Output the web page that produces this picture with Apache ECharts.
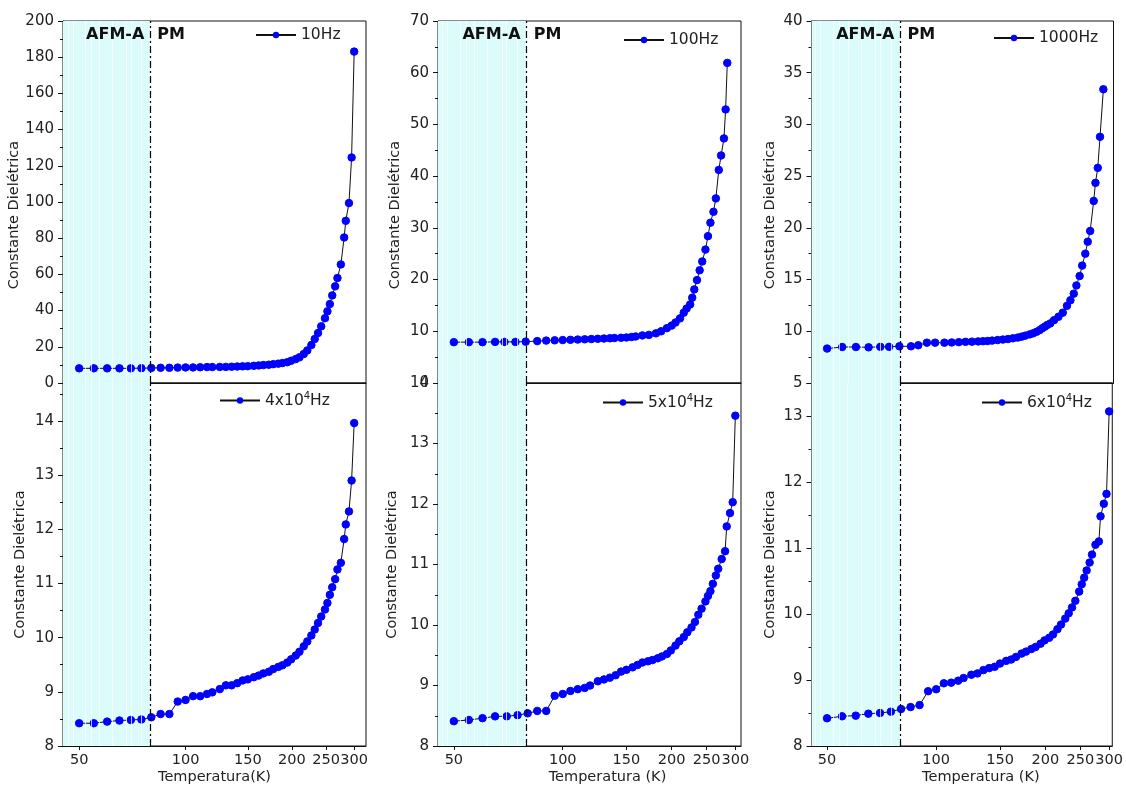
<!DOCTYPE html>
<html><head><meta charset="utf-8">
<script src="https://cdn.jsdelivr.net/npm/echarts@6/dist/echarts.min.js"></script>
<style>html,body{margin:0;padding:0;background:#fff}#c{width:1126px;height:789px}</style>
</head><body><div id="c"></div>
<script>
// ---------- DATA ----------
const seriesNames = ['10Hz', '100Hz', '1000Hz', '4x10^4Hz', '5x10^4Hz', '6x10^4Hz'];
const xTickLabels = [50, 100, 150, 200, 250, 300];
const transitionT = 79.5;          // AFM-A / PM boundary (K)
const bandStripesT = [46.5, 48, 52, 54, 57, 62, 68, 70, 75];

const T_common = [50,55,60,65,70,75,80,85,90,95,100,105,110,115,119,125,130,135,140,145,150,156,161,166,172,177,183,188,194,199,205,210,216,221,227,232,237,242,248,252,256,260,265,269,275,281,284,290,295,300];
const eps10Hz = [8.1,8.1,8.1,8.1,8.1,8.2,8.3,8.4,8.4,8.5, 8.6,8.6,8.7,8.8,8.8,8.9,8.9,9.0,9.1,9.2, 9.3,9.5,9.7,9.9,10.1,10.4,10.7,11.0,11.5,12.3, 13.2,14.2,16.0,18.0,21.0,24.3,27.6,31.3,35.8,39.6, 43.6,48.4,53.4,58.0,65.5,80.4,89.6,99.4,124.6,183.1];

const T_100Hz = [50,55,60,65,69,74,79,85,90,95,100,105,110,115,120,125,130,135,139,145,150,155,159,166,173,181,187,194,200,205,211,216,220,225,228,231,235,239,243,248,252,256,261,265,270,274,279,282,285];
const eps100Hz = [7.9,7.9,7.9,7.95,7.95,7.95,8.0,8.1,8.2,8.25, 8.3,8.35,8.4,8.45,8.5,8.55,8.6,8.65,8.7,8.75, 8.8,8.9,9.0,9.2,9.3,9.6,10.0,10.6,11.1,11.7, 12.5,13.6,14.4,15.2,16.5,18.1,19.9,21.8,23.5,25.8, 28.4,31.0,33.1,35.7,41.2,44.0,47.3,52.9,61.9];

const T_1000Hz = [50,55,60,65,70,74,79,85,89,94, 99,105,110,115,120,125,130,134,138,142, 147,152,157,162,167,171,175,180,184,188, 192,195,198,201,205,210,216,222,228,233, 238,242,247,251,256,260,264,270,273,277, 281,287];
const eps1000Hz = [8.33,8.48,8.48,8.45,8.5,8.5,8.55,8.55,8.65,8.9, 8.9,8.9,8.92,8.95,8.98,9.0,9.02,9.04,9.06,9.1, 9.15,9.2,9.25,9.32,9.39,9.48,9.58,9.7,9.8,9.95, 10.12,10.3,10.44,10.6,10.76,11.07,11.4,11.8,12.46,13.0, 13.64,14.43,15.34,16.35,17.5,18.66,19.7,22.6,24.35,25.8, 28.8,33.4];

const eps4e4Hz = [8.42,8.42,8.45,8.47,8.48,8.49,8.53,8.59,8.59,8.82, 8.85,8.92,8.92,8.96,8.99,9.05,9.12,9.12,9.16,9.21, 9.23,9.27,9.30,9.34,9.37,9.42,9.46,9.49,9.54,9.60, 9.67,9.74,9.84,9.93,10.04,10.15,10.27,10.39,10.52,10.64, 10.79,10.93,11.08,11.26,11.38,11.82,12.09,12.33,12.90,13.96];
const eps5e4Hz = [8.41,8.43,8.46,8.49,8.49,8.51,8.54,8.58,8.58,8.83, 8.86,8.91,8.94,8.96,9.00,9.07,9.10,9.13,9.17,9.23, 9.26,9.30,9.34,9.38,9.40,9.42,9.45,9.48,9.52,9.58, 9.66,9.73,9.80,9.88,9.96,10.05,10.17,10.27,10.39,10.48, 10.56,10.68,10.82,10.93,11.09,11.22,11.63,11.85,12.03,13.46];
const eps6e4Hz = [8.42,8.45,8.46,8.49,8.50,8.52,8.56,8.59,8.62,8.83, 8.86,8.95,8.96,8.99,9.03,9.08,9.10,9.15,9.18,9.20, 9.25,9.29,9.31,9.35,9.40,9.43,9.47,9.50,9.55,9.60, 9.64,9.69,9.77,9.84,9.93,10.01,10.10,10.20,10.34,10.45, 10.55,10.66,10.78,10.90,11.05,11.10,11.48,11.67,11.82,13.07];

const panelT = [T_common, T_100Hz, T_1000Hz, T_common, T_common, T_common];
const panelEps = [eps10Hz, eps100Hz, eps1000Hz, eps4e4Hz, eps5e4Hz, eps6e4Hz];
const yMin = [0, 0, 5, 8, 8, 8];
const yMax = [200, 70, 40, 14.7, 14, 13.5];
const yStep = [20, 10, 5, 1, 1, 1];
const xMin = [45, 45.2, 45.3, 45, 45.2, 45.3];
const xMax = [324, 311, 306, 324, 311, 306];
const xNames = ['', '', '', 'Temperatura(K)', 'Temperatura (K)', 'Temperatura (K)'];

// ---------- LAYOUT ----------
const FONT = 'DejaVu Sans';
const gridPos = [
  {left: 63, top: 21, width: 303, height: 362},
  {left: 438, top: 21, width: 303, height: 362},
  {left: 811.5, top: 21, width: 302, height: 362},
  {left: 63, top: 383, width: 303, height: 363},
  {left: 438, top: 383, width: 303, height: 363},
  {left: 811.5, top: 383, width: 302, height: 363}
];
const legendPos = [
  {left: 255, top: 27}, {left: 623, top: 32}, {left: 993, top: 30},
  {left: 219, top: 391}, {left: 602, top: 393}, {left: 981, top: 393}
];
const xNamePad = [0, 0, 0, 0, 36, 38];
const yNameGap = [37, 35, 34, 35, 38, 34];

const grids = [], xAxes = [], yAxes = [], series = [], legends = [];
for (let i = 0; i < 6; i++) {
  const isTop = i < 3;
  grids.push(Object.assign({show: true, borderColor: '#111', borderWidth: 1, backgroundColor: 'transparent', containLabel: false}, gridPos[i]));
  xAxes.push({
    type: 'log', logBase: 10, gridIndex: i, min: xMin[i], max: xMax[i],
    axisLine: {show: true, lineStyle: {color: '#111', width: 1}},
    axisTick: {show: !isTop, inside: false, length: 4, customValues: xTickLabels, lineStyle: {color: '#111'}},
    axisLabel: {show: !isTop, customValues: xTickLabels, hideOverlap: false, fontFamily: FONT, fontSize: 14.5, color: '#222', margin: 7},
    minorTick: {show: false}, splitLine: {show: false},
    name: xNames[i], nameLocation: 'middle', nameGap: 24,
    nameTextStyle: {fontFamily: FONT, fontSize: 14.5, color: '#222', padding: [0, 0, 0, xNamePad[i]]}
  });
  yAxes.push({
    type: 'value', gridIndex: i, min: yMin[i], max: yMax[i], interval: yStep[i],
    axisLine: {show: true, lineStyle: {color: '#111', width: 1}},
    axisTick: {show: true, inside: false, length: 5, lineStyle: {color: '#111'}},
    minorTick: {show: true, splitNumber: 2, length: 3, lineStyle: {color: '#111'}},
    splitLine: {show: false},
    axisLabel: {fontFamily: FONT, fontSize: 15, color: '#222', margin: 9, hideOverlap: false,
      showMaxLabel: (yMax[i] % yStep[i]) === 0, showMinLabel: true},
    name: 'Constante Dielétrica', nameLocation: 'middle', nameGap: yNameGap[i],
    nameTextStyle: {fontFamily: FONT, fontSize: 14.5, color: '#222', padding: isTop ? [0, 26, 0, 0] : [0, 0, 0, 0]}
  });
  const T = panelT[i], eps = panelEps[i];
  const markLineData = bandStripesT.map(t => ({xAxis: t, lineStyle: {color: '#ffffff', width: 1, type: 'solid', opacity: 0.75}}));
  markLineData.push({xAxis: transitionT, lineStyle: {color: '#000', width: 1.2, type: [7, 3, 2, 3], opacity: 1}});
  series.push({
    name: seriesNames[i], type: 'line', xAxisIndex: i, yAxisIndex: i,
    data: T.map((t, k) => [t, eps[k]]),
    symbol: 'circle', symbolSize: 7.5, showSymbol: true,
    lineStyle: {color: '#111', width: 1},
    itemStyle: {color: '#0000ff', borderColor: '#0000ff'},
    animation: false, silent: true,
    markArea: {silent: true, itemStyle: {color: '#dcfcfc'}, data: [[{xAxis: xMin[i]}, {xAxis: transitionT}]]},
    markLine: {silent: true, symbol: ['none', 'none'], label: {show: false}, data: markLineData}
  });
  legends.push({
    data: [seriesNames[i]], left: legendPos[i].left, top: legendPos[i].top, padding: 0,
    itemWidth: 40, itemHeight: 8, itemGap: 5, selectedMode: false,
    formatter: n => n.replace('^4', '{sup|4}'),
    textStyle: {fontFamily: FONT, fontSize: 15.5, color: '#222',
      rich: {sup: {fontFamily: FONT, fontSize: 10, color: '#222', padding: [0, 0, 9, 0]}}}
  });
}

const chart = echarts.init(document.getElementById('c'), null, {renderer: 'canvas'});
chart.setOption({
  animation: false, backgroundColor: '#fff',
  grid: grids, xAxis: xAxes, yAxis: yAxes, series: series, legend: legends
});

// Phase labels placed relative to the transition line
const gfx = [];
for (let i = 0; i < 3; i++) {
  const px = chart.convertToPixel({xAxisIndex: i}, transitionT);
  const y = gridPos[i].top + 14;
  gfx.push({type: 'text', x: px - 6, y: y, z: 100, silent: true,
    style: {text: 'AFM-A', align: 'right', verticalAlign: 'middle', font: 'bold 16px "' + FONT + '"', fill: '#111'}});
  gfx.push({type: 'text', x: px + 7, y: y, z: 100, silent: true,
    style: {text: 'PM', align: 'left', verticalAlign: 'middle', font: 'bold 16px "' + FONT + '"', fill: '#111'}});
}
chart.setOption({graphic: gfx});
</script></body></html>
